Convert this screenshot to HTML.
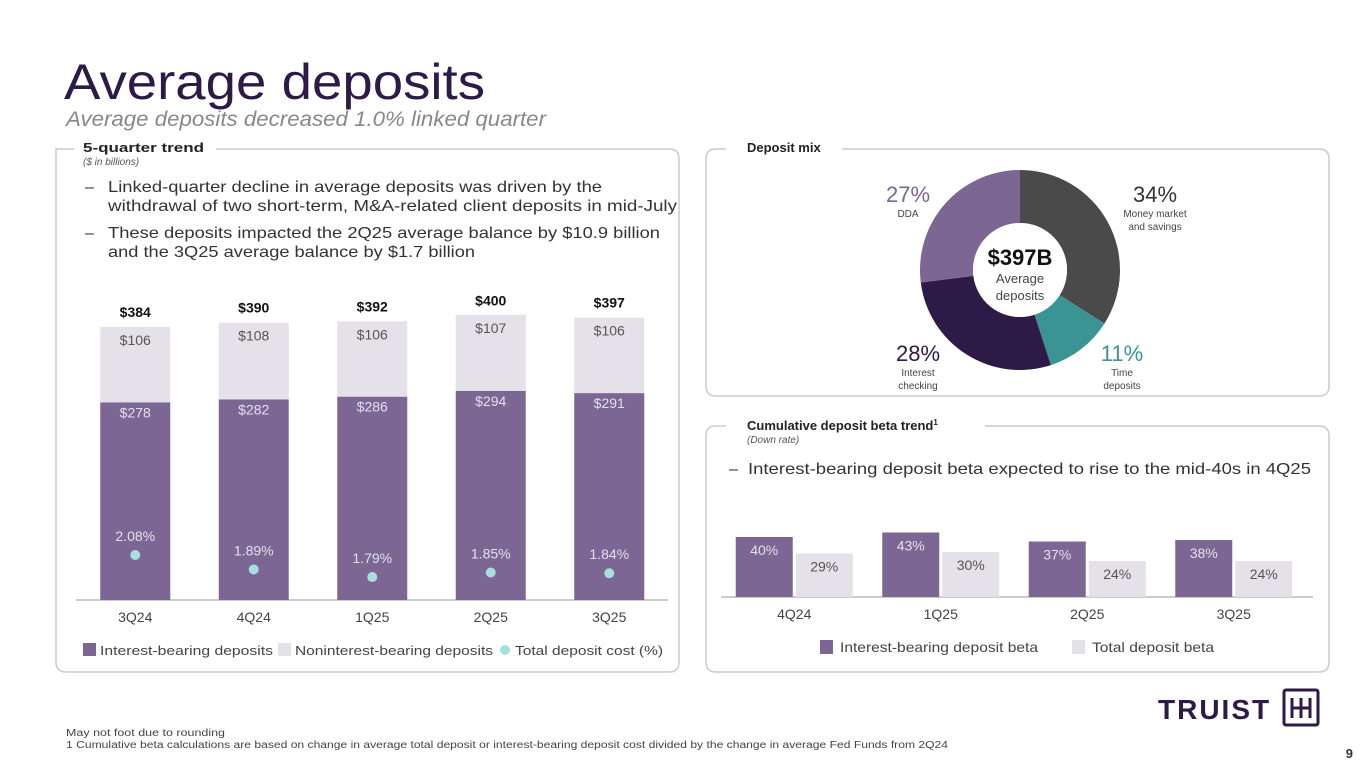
<!DOCTYPE html>
<html><head><meta charset="utf-8"><style>
body{margin:0;width:1365px;height:768px;overflow:hidden;background:#fff;font-family:"Liberation Sans",sans-serif}
svg{display:block}
</style></head><body>
<svg id="s" width="1365" height="768" xmlns="http://www.w3.org/2000/svg" font-family="Liberation Sans, sans-serif">
<text x="64" y="99" font-size="50" fill="#2e1a47" textLength="421" lengthAdjust="spacingAndGlyphs">Average deposits</text>
<text x="66" y="126" font-size="21" font-style="italic" fill="#888" textLength="480" lengthAdjust="spacingAndGlyphs">Average deposits decreased 1.0% linked quarter</text>

<path d="M74,149 H56 Q56,149 56,159 V662 Q56,672 66,672 H669 Q679,672 679,662 V159 Q679,149 669,149 H216" fill="none" stroke="#ccc" stroke-width="1.5"/>
<text x="83" y="152" font-size="13" font-weight="bold" fill="#222" textLength="121" lengthAdjust="spacingAndGlyphs">5-quarter trend</text>
<text x="83" y="165" font-size="10" font-style="italic" fill="#555">($ in billions)</text>
<g font-size="16" fill="#333" lengthAdjust="spacingAndGlyphs">
<text x="85" y="192">–</text><text x="108" y="192" textLength="494" lengthAdjust="spacingAndGlyphs">Linked-quarter decline in average deposits was driven by the</text>
<text x="108" y="211" textLength="569" lengthAdjust="spacingAndGlyphs">withdrawal of two short-term, M&amp;A-related client deposits in mid-July</text>
<text x="85" y="238">–</text><text x="108" y="238" textLength="552" lengthAdjust="spacingAndGlyphs">These deposits impacted the 2Q25 average balance by $10.9 billion</text>
<text x="108" y="257" textLength="367" lengthAdjust="spacingAndGlyphs">and the 3Q25 average balance by $1.7 billion</text>
</g>
<g id="trend"></g>

<path d="M726,149 H716 Q706,149 706,159 V386 Q706,396 716,396 H1319 Q1329,396 1329,386 V159 Q1329,149 1319,149 H842" fill="none" stroke="#ccc" stroke-width="1.5"/>
<text x="747" y="152" font-size="13" font-weight="bold" fill="#222">Deposit mix</text>
<g id="donut"></g>

<path d="M726,426 H716 Q706,426 706,436 V662 Q706,672 716,672 H1319 Q1329,672 1329,662 V436 Q1329,426 1319,426 H985" fill="none" stroke="#ccc" stroke-width="1.5"/>
<text x="747" y="430" font-size="13" font-weight="bold" fill="#222">Cumulative deposit beta trend<tspan font-size="8" dy="-5">1</tspan></text>
<text x="747" y="443" font-size="10" font-style="italic" fill="#555">(Down rate)</text>
<text x="729" y="474" font-size="16" fill="#333">–</text>
<text x="748" y="474" font-size="16" fill="#333" textLength="563" lengthAdjust="spacingAndGlyphs">Interest-bearing deposit beta expected to rise to the mid-40s in 4Q25</text>
<g id="beta"></g>

<text x="1158" y="719" font-size="28" font-weight="bold" fill="#2e1a47" letter-spacing="2">TRUIST</text>
<g stroke="#2e1a47" stroke-width="3" fill="none">
<rect x="1284" y="690" width="34" height="35" rx="2"/>
<path d="M1292,698 V718 M1292,708 H1310 M1301,698 V718 M1310,698 V718"/>
</g>
<text x="1353" y="758" font-size="13" font-weight="bold" fill="#333" text-anchor="end">9</text>
<text x="66" y="736" font-size="10" fill="#444" textLength="159" lengthAdjust="spacingAndGlyphs">May not foot due to rounding</text>
<text x="66" y="748" font-size="10" fill="#444" textLength="882" lengthAdjust="spacingAndGlyphs">1 Cumulative beta calculations are based on change in average total deposit or interest-bearing deposit cost divided by the change in average Fed Funds from 2Q24</text>
</svg>
<script>
const NS="http://www.w3.org/2000/svg";
function mk(p,t,a,txt){const e=document.createElementNS(NS,t);for(const k in a)e.setAttribute(k,a[k]);if(txt!==undefined)e.textContent=txt;p.appendChild(e);return e;}

// trend chart data
const quarters=["3Q24","4Q24","1Q25","2Q25","3Q25"];
const interestBearing=[278,282,286,294,291];
const nonInterest=[106,108,106,107,106];
const totals=[384,390,392,400,397];
const depositCost=[2.08,1.89,1.79,1.85,1.84];

// beta chart data
const betaQuarters=["4Q24","1Q25","2Q25","3Q25"];
const ibBeta=[40,43,37,38];
const totalBeta=[29,30,24,24];

// donut data
const mixLabels=["Money market and savings","Time deposits","Interest checking","DDA"];
const mixValues=[34,11,28,27];

const PURPLE="#7b6694",GREY="#e4e1e8",TEAL="#a9dede";
// trend
(function(){
const g=document.getElementById("trend");
const base=600,x0=76,step=118.5,bw=70;
const y=v=>base-v*0.711;
const xc=i=>x0+step*(i+0.5);
const cy=v=>555+(2.08-v)*76;
mk(g,"line",{x1:76,x2:668,y1:base,y2:base,stroke:"#999","stroke-width":1});
quarters.forEach((q,i)=>{
 const x=xc(i)-bw/2;
 let r=mk(g,"rect",{x:x,y:y(interestBearing[i]),width:bw,height:base-y(interestBearing[i]),fill:PURPLE});
 
 
 let r2=mk(g,"rect",{x:x,y:y(interestBearing[i]+nonInterest[i]),width:bw,height:nonInterest[i]*0.711,fill:GREY});
 
 
 mk(g,"text",{x:xc(i),y:y(interestBearing[i])+15,"font-size":14,fill:"#e6e0ee","text-anchor":"middle"},"$"+interestBearing[i]);
 mk(g,"text",{x:xc(i),y:y(interestBearing[i]+nonInterest[i])+18,"font-size":14,fill:"#555","text-anchor":"middle"},"$"+nonInterest[i]);
 let t=mk(g,"text",{x:xc(i),y:y(totals[i])-10,"font-size":14,"font-weight":"bold",fill:"#111","text-anchor":"middle"},"$"+totals[i]);
 
 
 let c=mk(g,"circle",{cx:xc(i),cy:cy(depositCost[i]),r:5,fill:TEAL});
 
 
 mk(g,"text",{x:xc(i),y:cy(depositCost[i])-14,"font-size":14,fill:"#e6e0ee","text-anchor":"middle"},depositCost[i].toFixed(2)+"%");
 let xl=mk(g,"text",{x:xc(i),y:622,"font-size":14,fill:"#444","text-anchor":"middle"},q);
 
 
});
const lg=mk(g,"g",{"font-size":13,fill:"#444"});


mk(lg,"rect",{x:83,y:643,width:13,height:13,fill:PURPLE});
mk(lg,"text",{x:100,y:655,textLength:173,lengthAdjust:"spacingAndGlyphs"},"Interest-bearing deposits");
mk(lg,"rect",{x:278,y:643,width:13,height:13,fill:GREY});
mk(lg,"text",{x:295,y:655,textLength:198,lengthAdjust:"spacingAndGlyphs"},"Noninterest-bearing deposits");
mk(lg,"circle",{cx:505,cy:650,r:5,fill:TEAL});
mk(lg,"text",{x:515,y:655,textLength:148,lengthAdjust:"spacingAndGlyphs"},"Total deposit cost (%)");
})();
// donut
(function(){
const g=document.getElementById("donut");
const cx=1020,cy=270,R=100,r=47;
const cols=["#4a4a4a","#3a9494","#2e1a47",PURPLE];
const total=mixValues.reduce((a,b)=>a+b,0);
let a0=-Math.PI/2;
mixValues.forEach((v,i)=>{
 const a1=a0+v/total*2*Math.PI;const lg=(a1-a0)>Math.PI?1:0;
 const p=`M${cx+R*Math.cos(a0)},${cy+R*Math.sin(a0)} A${R},${R} 0 ${lg} 1 ${cx+R*Math.cos(a1)},${cy+R*Math.sin(a1)} L${cx+r*Math.cos(a1)},${cy+r*Math.sin(a1)} A${r},${r} 0 ${lg} 0 ${cx+r*Math.cos(a0)},${cy+r*Math.sin(a0)} Z`;
 const s=mk(g,"path",{d:p,fill:cols[i]});
 
 
 a0=a1;
});
mk(g,"circle",{cx:cx,cy:cy,r:r,fill:"#fff"});
mk(g,"text",{x:cx,y:265,"font-size":22,"font-weight":"bold",fill:"#111","text-anchor":"middle"},"$397B");
mk(g,"text",{x:cx,y:283,"font-size":13,fill:"#444","text-anchor":"middle"},"Average");
mk(g,"text",{x:cx,y:300,"font-size":13,fill:"#444","text-anchor":"middle"},"deposits");
const labs=[[1155,202,"#333",["Money market","and savings"]],[1122,361,"#3a9494",["Time","deposits"]],[918,361,"#2e1a47",["Interest","checking"]],[908,202,PURPLE,["DDA"]]];
labs.forEach((L,i)=>{
 const t=mk(g,"text",{x:L[0],y:L[1],"font-size":22,fill:L[2],"text-anchor":"middle"},mixValues[i]+"%");
 
 
 L[3].forEach((s,j)=>mk(g,"text",{x:L[0],y:L[1]+15+j*13,"font-size":10,fill:"#444","text-anchor":"middle"},s));
});
})();
// beta
(function(){
const g=document.getElementById("beta");
const base=597,x0=721,step=146.5,bw=57;
const y=v=>base-v*1.5;
const xc=i=>x0+step*(i+0.5);
mk(g,"line",{x1:721,x2:1313,y1:base,y2:base,stroke:"#999","stroke-width":1});
betaQuarters.forEach((q,i)=>{
 const c=xc(i);
 let a=mk(g,"rect",{x:c-bw-1.5,y:y(ibBeta[i]),width:bw,height:ibBeta[i]*1.5,fill:PURPLE});
 
 
 let b=mk(g,"rect",{x:c+1.5,y:y(totalBeta[i]),width:bw,height:totalBeta[i]*1.5,fill:GREY});
 
 
 mk(g,"text",{x:c-bw/2-1.5,y:y(ibBeta[i])+18,"font-size":14,fill:"#e6e0ee","text-anchor":"middle"},ibBeta[i]+"%");
 mk(g,"text",{x:c+bw/2+1.5,y:y(totalBeta[i])+18,"font-size":14,fill:"#555","text-anchor":"middle"},totalBeta[i]+"%");
 let xl=mk(g,"text",{x:c,y:619,"font-size":14,fill:"#444","text-anchor":"middle"},q);
 
 
});
const lg=mk(g,"g",{"font-size":14,fill:"#444"});


mk(lg,"rect",{x:820,y:640,width:13,height:14,fill:PURPLE});
mk(lg,"text",{x:840,y:652,textLength:198,lengthAdjust:"spacingAndGlyphs"},"Interest-bearing deposit beta");
mk(lg,"rect",{x:1072,y:640,width:13,height:14,fill:GREY});
mk(lg,"text",{x:1092,y:652,textLength:122,lengthAdjust:"spacingAndGlyphs"},"Total deposit beta");
})();
</script>
</body></html>
